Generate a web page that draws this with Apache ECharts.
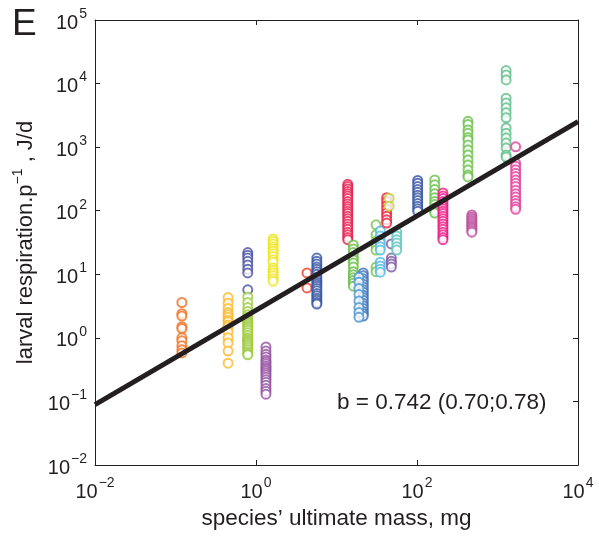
<!DOCTYPE html>
<html>
<head>
<meta charset="utf-8">
<script src="https://cdn.jsdelivr.net/npm/echarts@6/dist/echarts.min.js"></script>
<style>html,body{margin:0;padding:0;background:#fff}#c{width:599px;height:536px}</style>
</head>
<body>
<div id="c"></div>
<script>
// species' ultimate mass (mg) for each group, and its respiration values (J/d)
const groupNames = ['orange','amber','indigo','lime','yellow','violet','vermilion','royal','crimson','green16','steel','sky','green31','cyan','red42','chartreuse','purple48','teal','navy','green166','magenta','green430','mauve','seagreen','pink'];
const groupMass = [0.12, 0.45, 0.79, 0.79, 1.63, 1.33, 4.3, 5.7, 13.8, 16.2, 21.5, 19.0, 31, 35, 42, 45, 48, 56, 102, 166, 210, 430, 480, 1280, 1680];
const groupColors = ['#f36f21','#fdb827','#4a51a1','#9ccb3b','#eee51c','#9450a0','#ee3b24','#3253a3','#e8194b','#69bd45','#3e6fb6','#4a94d2','#78c046','#4fb9e3','#ec1c3a','#b9d233','#7d56a4','#5cc5c0','#3452a2','#6abf4b','#ec1682','#6cbf4a','#bb4d9c','#5dbe8a','#e23d9a'];
const resp_orange = [3.6, 2.4, 2.2, 1.5, 1.4, 1.0, 0.9, 0.75, 0.65, 0.58];
const resp_amber = [4.3, 3.5, 2.9, 2.5, 2.3, 2.1, 1.9, 1.8, 1.6, 1.5, 1.25, 1.0, 0.83, 0.62, 0.40];
const resp_indigo = [22, 20, 18, 16, 14, 12, 10.5, 5.7];
const resp_lime = [4.4, 3.6, 3.0, 2.6, 2.3, 2.1, 1.9, 1.8, 1.7, 1.6, 1.5, 1.4, 1.3, 1.2, 1.1, 1.0, 0.95, 0.9, 0.85, 0.8, 0.75, 0.7, 0.65, 0.6, 0.56, 0.54];
const resp_yellow = [36, 33, 30, 27, 25, 23, 21, 19, 17, 15.5, 12.6, 11.5, 10.5, 9.5, 8.5, 7.8];
const resp_violet = [0.72, 0.62, 0.55, 0.5, 0.45, 0.42, 0.39, 0.36, 0.34, 0.32, 0.3, 0.28, 0.26, 0.24, 0.22, 0.2, 0.18, 0.16, 0.145, 0.13];
const resp_vermilion = [10.5, 6.1];
const resp_royal = [18, 16, 14.5, 13, 12, 11, 10, 9, 8.2, 7.5, 7, 6.5, 6, 5.5, 5, 4.6, 4.2, 3.9, 3.6, 3.4];
const resp_crimson = [260, 240, 220, 200, 185, 170, 155, 140, 128, 117, 107, 98, 90, 82, 75, 68, 62, 56, 51, 46, 42, 38, 35];
const resp_green16 = [29, 25, 22, 19, 17, 15, 13, 11, 9.8, 8.8, 8, 7.2, 6.5];
const resp_steel = [10.5, 9.5, 8.5, 7.8, 7, 6.3, 5.7, 5.2, 4.7, 4.3, 3.9, 3.5, 3.2, 2.9, 2.6, 2.4, 2.2];
const resp_sky = [9, 7.5, 6, 4.8, 3.8, 3.0, 2.5, 2.1];
const resp_green31 = [60, 42, 33, 28, 24, 13, 11];
const resp_cyan = [48, 40, 35, 31, 27, 24, 15.5, 13.5, 12, 10.8];
const resp_red42 = [160, 140, 120, 105, 92, 82, 72, 64];
const resp_chartreuse = [157, 118];
const resp_purple48 = [30, 18, 16, 14.5, 13];
const resp_teal = [46, 40, 35, 31, 27, 24];
const resp_navy = [300, 270, 240, 215, 195, 175, 160, 145, 130, 118, 107, 98];
const resp_green166 = [305, 255, 215, 185, 160, 140, 125, 110, 100, 92];
const resp_magenta = [190, 170, 155, 140, 128, 117, 107, 98, 90, 82, 75, 68, 62, 56, 51, 46, 42, 38, 35];
const resp_green430 = [2550, 2270, 1860, 1650, 1420, 1300, 1080, 904, 754, 630, 525, 438, 366, 340];
const resp_mauve = [86, 80, 75, 70, 66, 62, 58, 55, 52, 49, 46];
const resp_seagreen = [16000, 13600, 11400, 5900, 4950, 4150, 3480, 2900, 2000, 1660, 1390, 1160, 970, 754, 700];
const resp_pink = [1010, 560, 500, 440, 390, 345, 305, 270, 240, 210, 185, 165, 145, 130, 115, 105];
const groupValues = [resp_orange, resp_amber, resp_indigo, resp_lime, resp_yellow, resp_violet, resp_vermilion, resp_royal, resp_crimson, resp_green16, resp_steel, resp_sky, resp_green31, resp_cyan, resp_red42, resp_chartreuse, resp_purple48, resp_teal, resp_navy, resp_green166, resp_magenta, resp_green430, resp_mauve, resp_seagreen, resp_pink];
// fitted allometric line: log10(R) = fitIntercept + fitSlope*log10(M)
const fitSlope = 0.742;
const fitIntercept = 0.434;
const fitRange = [0.01, 10000];
const xTicks = [0.01, 1, 100, 10000];
const yTicks = [0.01, 0.1, 1, 10, 100, 1000, 10000, 100000];
const annotation = 'b = 0.742 (0.70;0.78)';

const FONT = 'Liberation Sans, Arial, Helvetica, sans-serif';
const TXT = '#231f20';
const supRich = {
  b: {fontSize: 20, fontFamily: FONT, color: TXT, verticalAlign: 'bottom'},
  s: {fontSize: 14, fontFamily: FONT, color: TXT, verticalAlign: 'bottom', padding: [0, 0, 12, 1]}
};
function powLabel(v) {
  const e = Math.round(Math.log10(v));
  return '{b|10}{s|' + (e < 0 ? '\u2212' + (-e) : e) + '}';
}

const series = groupValues.map((vals, i) => ({
  name: groupNames[i],
  type: 'scatter',
  symbol: 'emptyCircle',
  symbolSize: 9,
  itemStyle: {color: groupColors[i], borderColor: groupColors[i], borderWidth: 1},
  data: vals.map(v => [groupMass[i], v]),
  silent: true,
  z: 2
}));
series.push({
  name: 'fit',
  type: 'line',
  data: fitRange.map(m => [m, Math.pow(10, fitIntercept + fitSlope * Math.log10(m))]),
  symbol: 'none',
  lineStyle: {color: TXT, width: 5},
  silent: true,
  z: 5
});

const chart = echarts.init(document.getElementById('c'), null, {renderer: 'canvas'});
chart.setOption({
  animation: false,
  backgroundColor: '#fff',
  grid: {left: 95, right: 21, top: 20, bottom: 71, containLabel: false},
  xAxis: [{
    type: 'log', logBase: 100, min: xTicks[0], max: xTicks[xTicks.length - 1],
    axisLine: {show: true, lineStyle: {color: TXT, width: 1}},
    axisTick: {show: true, inside: true, length: 5, lineStyle: {color: TXT}},
    splitLine: {show: false},
    axisLabel: {formatter: powLabel, rich: supRich, margin: 11},
    name: "species\u2019 ultimate mass, mg", nameLocation: 'middle', nameGap: 41,
    nameTextStyle: {fontSize: 22.5, fontFamily: FONT, color: TXT}
  }, {
    type: 'log', logBase: 100, min: xTicks[0], max: xTicks[xTicks.length - 1], position: 'top',
    axisLine: {show: true, onZero: false, lineStyle: {color: TXT, width: 1}},
    axisTick: {show: true, inside: true, length: 5, lineStyle: {color: TXT}},
    axisLabel: {show: false}, splitLine: {show: false}
  }],
  yAxis: [{
    type: 'log', logBase: 10, min: yTicks[0], max: yTicks[yTicks.length - 1],
    axisLine: {show: true, onZero: false, lineStyle: {color: TXT, width: 1}},
    axisTick: {show: true, inside: true, length: 5, lineStyle: {color: TXT}},
    minorTick: {show: false},
    splitLine: {show: false},
    axisLabel: {formatter: powLabel, rich: supRich, margin: 8},
    name: '{n|larval respiration.p}{s|\u22121}{n| , J/d}', nameLocation: 'middle', nameGap: 54,
    nameTextStyle: {rich: {
      n: {fontSize: 22, fontFamily: FONT, color: TXT, verticalAlign: 'bottom'},
      s: {fontSize: 14, fontFamily: FONT, color: TXT, verticalAlign: 'bottom', padding: [0, 0, 12, 0]}
    }}
  }, {
    type: 'log', logBase: 10, min: yTicks[0], max: yTicks[yTicks.length - 1], position: 'right',
    axisLine: {show: true, onZero: false, lineStyle: {color: TXT, width: 1}},
    axisTick: {show: true, inside: true, length: 5, lineStyle: {color: TXT}},
    axisLabel: {show: false}, splitLine: {show: false}
  }],
  graphic: [
    {type: 'text', left: 12, top: 6, style: {text: 'E', fontSize: 37, fontFamily: FONT, fill: TXT}},
    {type: 'text', left: 337, top: 391, style: {text: annotation, fontSize: 22.5, fontFamily: FONT, fill: TXT}}
  ],
  series: series
});
</script>
</body>
</html>
